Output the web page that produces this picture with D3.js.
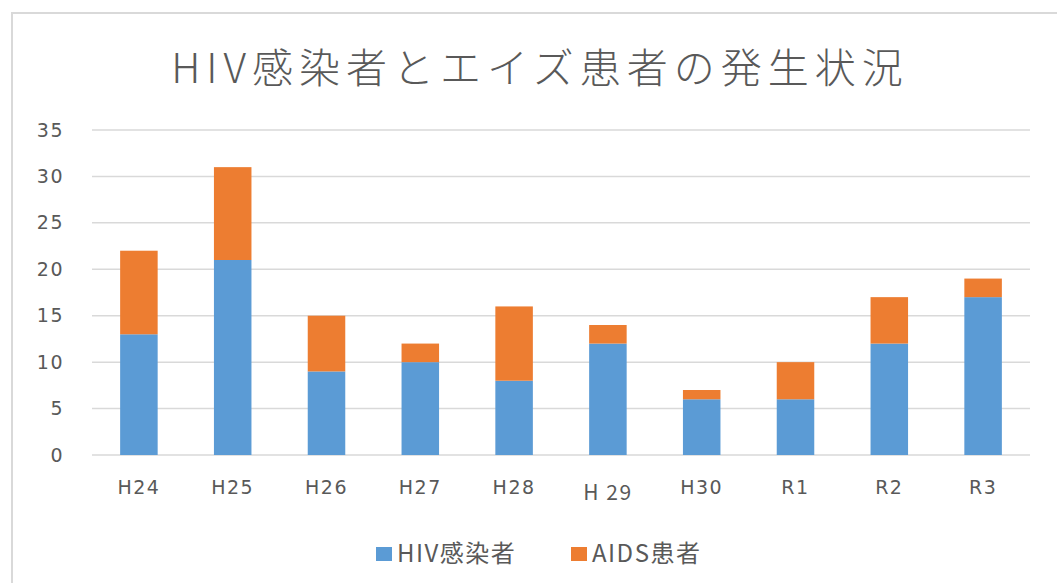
<!DOCTYPE html>
<html>
<head>
<meta charset="utf-8">
<script src="https://cdn.jsdelivr.net/npm/d3@7"></script>
<style>
  body { margin: 0; background: #fff; }
  svg { display: block; }
</style>
</head>
<body>
<svg id="chart"></svg>
<script>
// chart data
const categories = ['H24', 'H25', 'H26', 'H27', 'H28', 'H 29', 'H30', 'R1', 'R2', 'R3'];
const hivValues = [13, 21, 9, 10, 8, 12, 6, 6, 12, 17];
const aidsValues = [9, 10, 6, 2, 8, 2, 1, 4, 5, 2];
const seriesNames = ['HIV感染者', 'AIDS患者'];
const yTicks = [0, 5, 10, 15, 20, 25, 30, 35];

const width = 1057;
const height = 583;
const colors = ['#5B9BD5', '#ED7D31'];
const textColor = '#595959';
const font = "'Noto Sans CJK JP', 'Open Sans', sans-serif";
const tickFont = "'DejaVu Sans', sans-serif";

const svg = d3.select('#chart')
    .attr('width', width)
    .attr('height', height);

// outer chart border
svg.append('rect')
    .attr('x', 12)
    .attr('y', 13)
    .attr('width', width + 10)
    .attr('height', height + 10)
    .attr('fill', '#fff')
    .attr('stroke', '#d9d9d9')
    .attr('stroke-width', 2);

svg.append('text')
    .attr('x', 540)
    .attr('y', 83)
    .attr('text-anchor', 'middle')
    .attr('fill', textColor)
    .style('font-family', font)
    .style('font-size', '41px')
    .style('font-weight', 300)
    .style('letter-spacing', '6px')
    .text('HIV感染者とエイズ患者の発生状況');

const x = d3.scaleBand()
    .domain(categories)
    .range([92, 1030])
    .paddingInner(0.6)
    .paddingOuter(0.3);

const y = d3.scaleLinear()
    .domain([0, 35])
    .range([455, 130]);

// gridlines
svg.append('g')
    .selectAll('line')
    .data(yTicks)
    .join('line')
    .attr('x1', 92)
    .attr('x2', 1030)
    .attr('y1', d => y(d))
    .attr('y2', d => y(d))
    .attr('stroke', '#d9d9d9')
    .attr('stroke-width', 1.5);

// y axis labels
const yAxis = d3.axisLeft(y).tickValues(yTicks).tickSize(0).tickPadding(0);
svg.append('g')
    .attr('transform', 'translate(64,0)')
    .call(yAxis)
    .call(g => g.select('.domain').remove())
    .selectAll('text')
    .attr('fill', textColor)
    .style('font-family', tickFont)
    .style('font-size', '19px')
    .style('letter-spacing', '1.5px');

// x axis labels
const xAxis = d3.axisBottom(x).tickSize(0).tickPadding(0);
svg.append('g')
    .attr('transform', 'translate(0,480)')
    .call(xAxis)
    .call(g => g.select('.domain').remove())
    .selectAll('text')
    .attr('fill', textColor)
    .attr('dy', d => d === 'H 29' ? '0.95em' : '0.71em')
    .style('font-family', d => d === 'H 29' ? font : tickFont)
    .style('font-size', d => d === 'H 29' ? '21px' : '19px')
    .style('letter-spacing', '1.5px');

// stacked bars
const rows = categories.map((c, i) => ({ cat: c, hiv: hivValues[i], aids: aidsValues[i] }));
const stacked = d3.stack().keys(['hiv', 'aids'])(rows);

svg.append('g')
    .selectAll('g')
    .data(stacked)
    .join('g')
    .attr('fill', (d, i) => colors[i])
    .selectAll('rect')
    .data(d => d)
    .join('rect')
    .attr('x', d => x(d.data.cat))
    .attr('width', x.bandwidth())
    .attr('y', d => y(d[1]))
    .attr('height', d => y(d[0]) - y(d[1]));

// legend
const legend = svg.append('g')
    .attr('transform', 'translate(0,554)');

const legendItems = [
    { name: seriesNames[0], x: 376 },
    { name: seriesNames[1], x: 571 }
];

legendItems.forEach((item, i) => {
    legend.append('rect')
        .attr('x', item.x)
        .attr('y', -7)
        .attr('width', 16)
        .attr('height', 14)
        .attr('fill', colors[i]);
    legend.append('text')
        .attr('x', item.x + 21)
        .attr('y', 0)
        .attr('dy', '0.35em')
        .attr('fill', textColor)
        .style('font-family', font)
        .style('font-size', '24px')
        .style('letter-spacing', '1.5px')
        .text(item.name);
});
</script>
</body>
</html>
